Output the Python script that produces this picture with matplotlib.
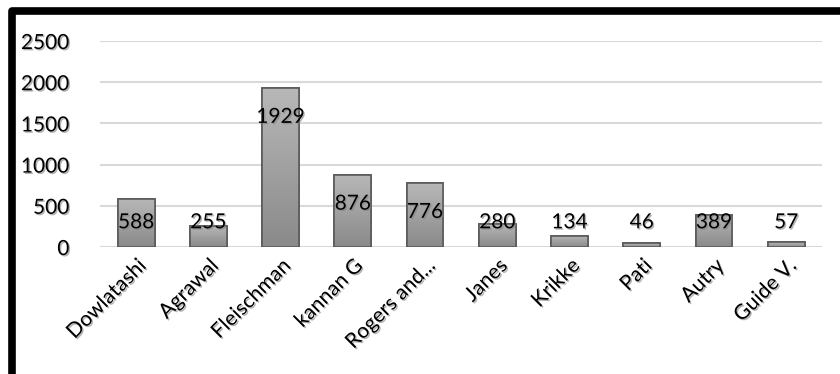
import numpy as np
import matplotlib
matplotlib.use("Agg")
import matplotlib.pyplot as plt
import matplotlib.patheffects as pe
from matplotlib.patches import Rectangle

authors = ["Dowlatashi", "Agrawal", "Fleischman", "kannan G", "Rogers and...",
           "Janes", "Krikke", "Pati", "Autry", "Guide V."]
counts = [588, 255, 1929, 876, 776, 280, 134, 46, 389, 57]
yticks = [0, 500, 1000, 1500, 2000, 2500]

plt.rcParams['font.family'] = ['Lato', 'DejaVu Sans']

fig = plt.figure(figsize=(8.4, 3.74), dpi=100)
ax = fig.add_axes([0.119, 0.3396, 0.860, 0.5508])

shadow = [pe.SimplePatchShadow(offset=(1, -1), shadow_rgbFace='#808080', alpha=0.6), pe.Normal()]

x = np.arange(len(authors))
bars = ax.bar(x, counts, width=0.51, color='#a0a0a0', edgecolor='#5a5a5a',
              linewidth=1.2, zorder=3)

# vertical gradient inside each bar
grad = np.linspace(0, 1, 256).reshape(-1, 1)
cmap = matplotlib.colors.LinearSegmentedColormap.from_list('g', ['#8a8a8a', '#b8b8b8'])
for b in bars:
    x0, y0 = b.get_x(), b.get_y()
    w, h = b.get_width(), b.get_height()
    im = ax.imshow(grad, cmap=cmap, origin='lower', aspect='auto',
                   extent=(x0, x0 + w, y0, y0 + h), zorder=3.5)
    im.set_clip_path(b)
    ax.add_patch(Rectangle((x0, y0), w, h, fill=False, edgecolor='#5a5a5a',
                           linewidth=1.2, zorder=4))

for xi, v in zip(x, counts):
    ly = max(v - 350, 300)
    ax.text(xi, ly, str(v), ha='center', va='center', fontsize=15,
            color='black', zorder=5, path_effects=shadow)

ax.set_xlim(-0.5, len(authors) - 0.5)
ax.set_ylim(0, 2500)
ax.set_yticks(yticks)
ax.set_yticklabels([str(t) for t in yticks], fontsize=15)
for lab in ax.get_yticklabels():
    lab.set_path_effects(shadow)
ax.set_xticks(x)
ax.set_xticklabels(authors, rotation=45, ha='right', rotation_mode='anchor', fontsize=15)
for lab in ax.get_xticklabels():
    lab.set_path_effects(shadow)
ax.tick_params(axis='y', length=0, pad=22)
ax.tick_params(axis='x', length=0, pad=6)
ax.grid(axis='y', color='#d9d9d9', linewidth=1.5, zorder=0)
ax.set_axisbelow(True)
for s in ax.spines.values():
    s.set_visible(False)

# thick black frame
fig.patches.append(Rectangle((11.5 / 840, -0.1), 1.2, 1 - 11.5 / 374 + 0.1,
                             transform=fig.transFigure, fill=False,
                             edgecolor='black', linewidth=5.5,
                             joinstyle='round', figure=fig))

fig.savefig("out.png", dpi=100)
